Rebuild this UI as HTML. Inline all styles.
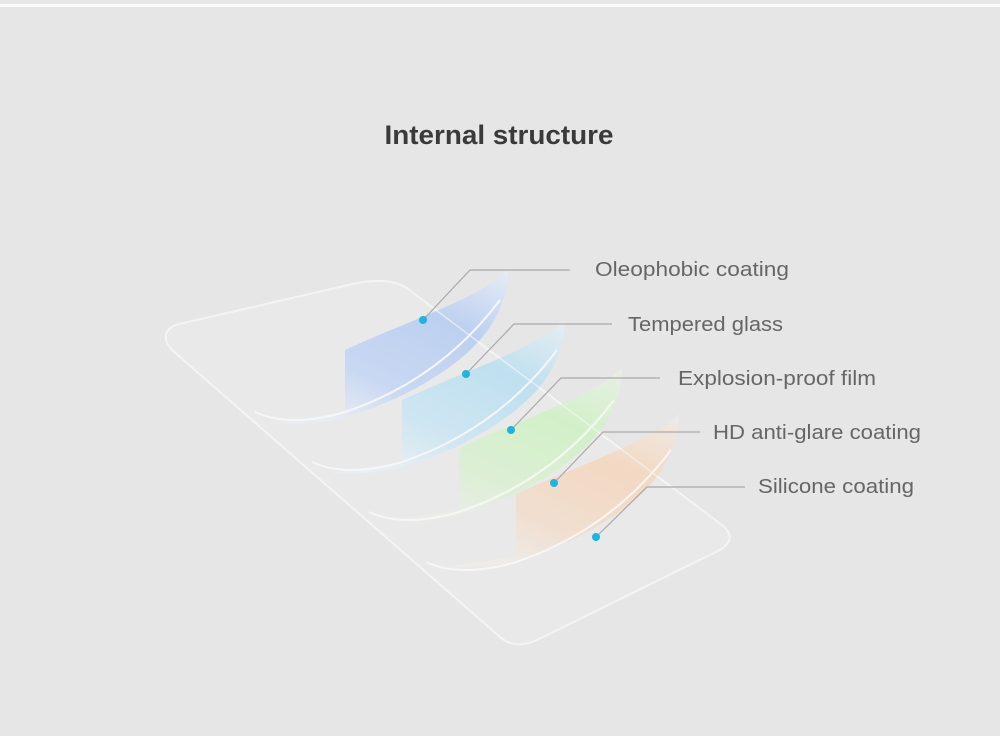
<!DOCTYPE html>
<html><head><meta charset="utf-8"><style>
html,body{margin:0;padding:0;width:1000px;height:736px;overflow:hidden;background:#e6e6e6}
svg{display:block}
text{font-family:"Liberation Sans",sans-serif}
</style></head><body>
<svg width="1000" height="736" viewBox="0 0 1000 736">
<defs>
<linearGradient id="gb" x1="1" y1="0" x2="0.3" y2="1"><stop offset="0" stop-color="#e6ecf6"/><stop offset="0.35" stop-color="#bcd0f0"/><stop offset="0.75" stop-color="#c9d8f2"/><stop offset="1" stop-color="#e8ecf3"/></linearGradient>
<linearGradient id="gc" x1="1" y1="0" x2="0.3" y2="1"><stop offset="0" stop-color="#e6eef2"/><stop offset="0.35" stop-color="#bfe0f0"/><stop offset="0.75" stop-color="#cfe6f2"/><stop offset="1" stop-color="#e8eef2"/></linearGradient>
<linearGradient id="gg" x1="1" y1="0" x2="0.3" y2="1"><stop offset="0" stop-color="#e9efe6"/><stop offset="0.35" stop-color="#d2f0c8"/><stop offset="0.75" stop-color="#dcefd5"/><stop offset="1" stop-color="#eaede8"/></linearGradient>
<linearGradient id="go" x1="1" y1="0" x2="0.3" y2="1"><stop offset="0" stop-color="#efebe6"/><stop offset="0.35" stop-color="#f3d8c2"/><stop offset="0.75" stop-color="#f0dfd0"/><stop offset="1" stop-color="#eeebe8"/></linearGradient>
<g id="sheet">
<path d="M345,350 C410,320 480,298 508,270 C507,325 467,362 405,394 C360,415 320,427 275,423 L345,412 Z"/>
</g>
</defs>
<rect x="0" y="4" width="1000" height="3" fill="#fafafa"/>
<text x="499" y="144" text-anchor="middle" font-size="27" font-weight="bold" fill="#3a3a3a" textLength="229" lengthAdjust="spacingAndGlyphs">Internal structure</text>
<path d="M175,325 L357,283 Q395,276 412,292 L722,525 Q740,540 716,552 L537,640 Q515,650 500,637 L172,350 Q158,334 175,325 Z" fill="#e9e9e9" stroke="#f4f4f4" stroke-width="2"/>
<g fill="url(#gb)"><use href="#sheet"/></g>
<g fill="url(#gc)" transform="translate(57,50)"><use href="#sheet"/></g>
<g fill="url(#gg)" transform="translate(114,98)"><use href="#sheet"/></g>
<g fill="url(#go)" transform="translate(171,144)"><use href="#sheet"/></g>
<g fill="none" stroke="#f6f6f6" stroke-width="2">
<path d="M255,412 Q290,428 345,412 Q440,380 500,300"/>
<path d="M312,462 Q347,478 402,462 Q497,430 557,350"/>
<path d="M369,512 Q404,528 459,512 Q554,480 614,400"/>
<path d="M426,562 Q461,578 516,562 Q611,530 671,450"/>
</g>
<path d="M412,292 L722,525" stroke="#f3f3f3" stroke-width="1.5" fill="none" opacity="0.7"/>
<g stroke="#a9a9a9" stroke-width="1.2" fill="none">
<polyline points="423,320 470,270 570,270"/>
<polyline points="466,374 514,324 612,324"/>
<polyline points="511,430 561,378 660,378"/>
<polyline points="554,483 603,432 700,432"/>
<polyline points="596,537 647,487 745,487"/>
</g>
<g fill="#1fb3e0">
<circle cx="423" cy="320" r="4"/><circle cx="466" cy="374" r="4"/><circle cx="511" cy="430" r="4"/><circle cx="554" cy="483" r="4"/><circle cx="596" cy="537" r="4"/>
</g>
<g font-size="20" fill="#666">
<text x="595" y="276" textLength="194" lengthAdjust="spacingAndGlyphs">Oleophobic coating</text>
<text x="628" y="331" textLength="155" lengthAdjust="spacingAndGlyphs">Tempered glass</text>
<text x="678" y="385" textLength="198" lengthAdjust="spacingAndGlyphs">Explosion-proof film</text>
<text x="713" y="439" textLength="208" lengthAdjust="spacingAndGlyphs">HD anti-glare coating</text>
<text x="758" y="493" textLength="156" lengthAdjust="spacingAndGlyphs">Silicone coating</text>
</g>
</svg>
</body></html>
